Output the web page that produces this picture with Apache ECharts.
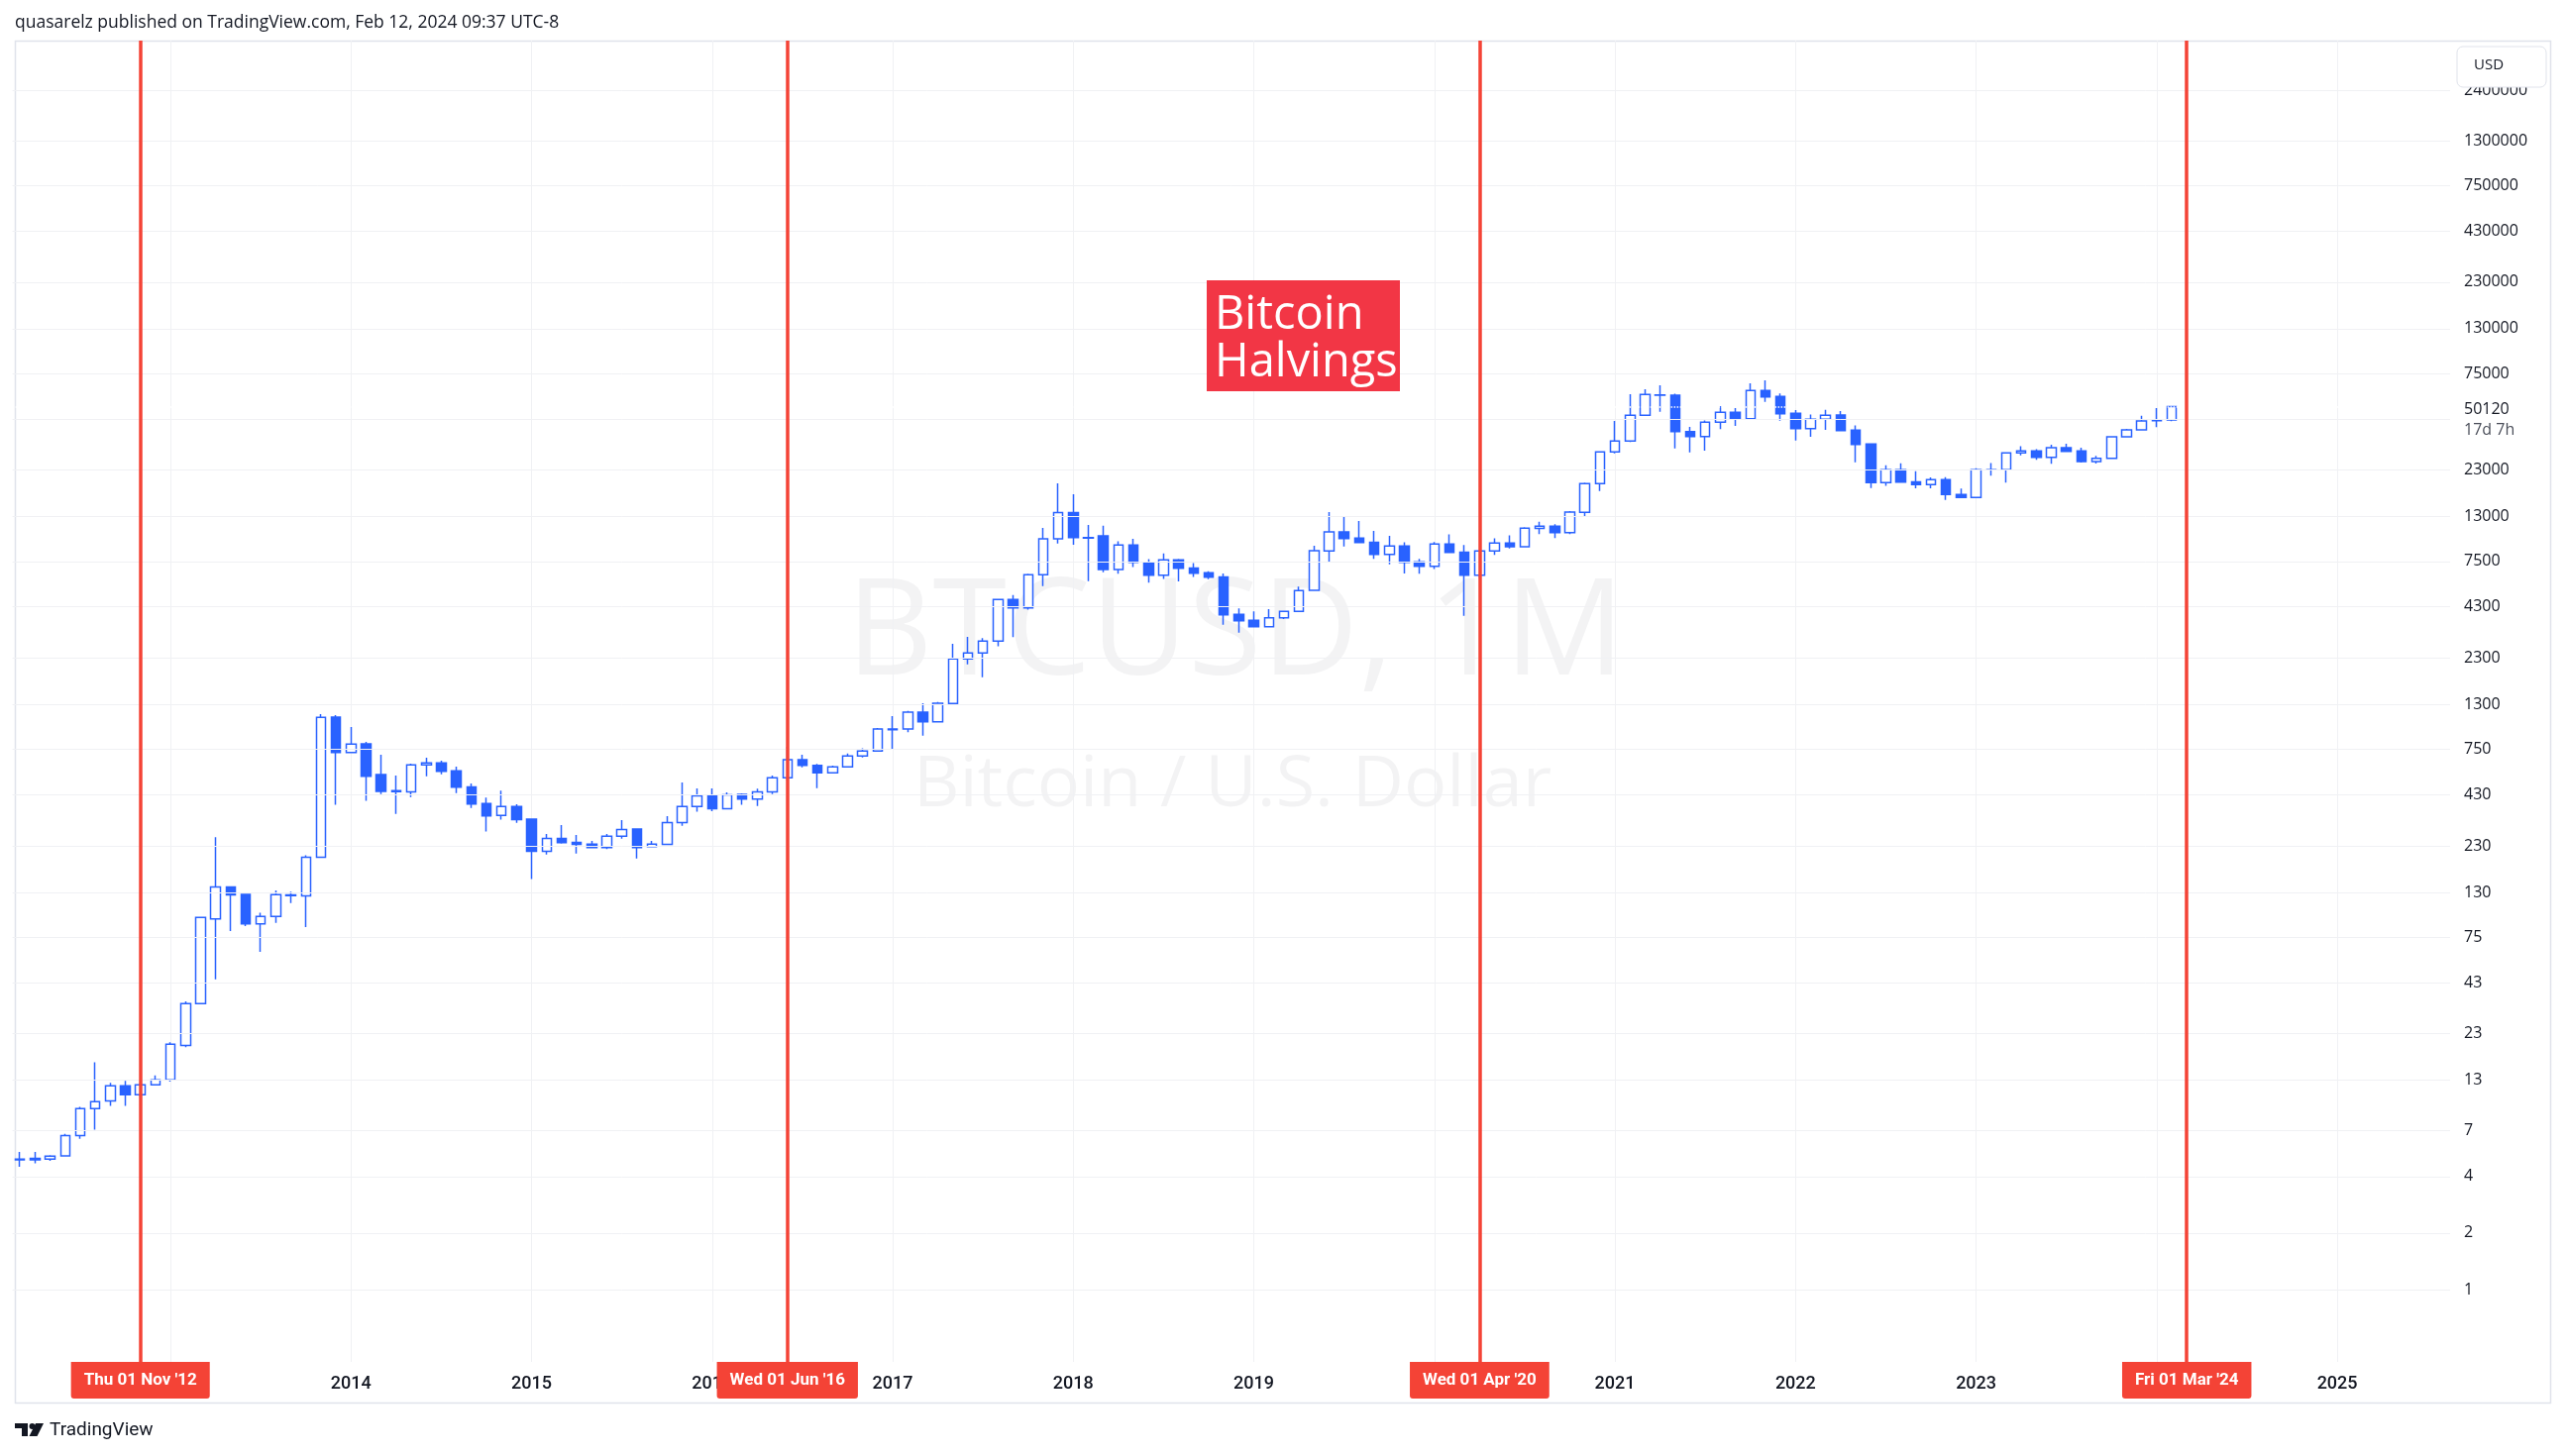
<!DOCTYPE html>
<html>
<head>
<meta charset="utf-8">
<script src="https://cdn.jsdelivr.net/npm/echarts@6/dist/echarts.min.js"></script>
<style>
html,body{margin:0;padding:0;background:#fff;}
#chart{width:2591px;height:1470px;}
</style>
</head>
<body>
<div id="chart"></div>
<script>
// ---- categories (monthly bars, Mar 2012 .. Aug 2025; bars exist through Feb 2024) ----
const months = [
 '2012-03','2012-04','2012-05','2012-06','2012-07','2012-08','2012-09','2012-10','2012-11','2012-12',
 '2013-01','2013-02','2013-03','2013-04','2013-05','2013-06','2013-07','2013-08','2013-09','2013-10','2013-11','2013-12',
 '2014-01','2014-02','2014-03','2014-04','2014-05','2014-06','2014-07','2014-08','2014-09','2014-10','2014-11','2014-12',
 '2015-01','2015-02','2015-03','2015-04','2015-05','2015-06','2015-07','2015-08','2015-09','2015-10','2015-11','2015-12',
 '2016-01','2016-02','2016-03','2016-04','2016-05','2016-06','2016-07','2016-08','2016-09','2016-10','2016-11','2016-12',
 '2017-01','2017-02','2017-03','2017-04','2017-05','2017-06','2017-07','2017-08','2017-09','2017-10','2017-11','2017-12',
 '2018-01','2018-02','2018-03','2018-04','2018-05','2018-06','2018-07','2018-08','2018-09','2018-10','2018-11','2018-12',
 '2019-01','2019-02','2019-03','2019-04','2019-05','2019-06','2019-07','2019-08','2019-09','2019-10','2019-11','2019-12',
 '2020-01','2020-02','2020-03','2020-04','2020-05','2020-06','2020-07','2020-08','2020-09','2020-10','2020-11','2020-12',
 '2021-01','2021-02','2021-03','2021-04','2021-05','2021-06','2021-07','2021-08','2021-09','2021-10','2021-11','2021-12',
 '2022-01','2022-02','2022-03','2022-04','2022-05','2022-06','2022-07','2022-08','2022-09','2022-10','2022-11','2022-12',
 '2023-01','2023-02','2023-03','2023-04','2023-05','2023-06','2023-07','2023-08','2023-09','2023-10','2023-11','2023-12',
 '2024-01','2024-02','2024-03','2024-04','2024-05','2024-06','2024-07','2024-08','2024-09','2024-10','2024-11','2024-12',
 '2025-01','2025-02','2025-03','2025-04','2025-05','2025-06','2025-07','2025-08'
];

// ---- BTCUSD monthly OHLC ----
const opens = [
 4.95,4.90,4.95,5.15,6.60,9.20,10.1,12.15,10.9,12.3,
 13.05,19.9,33.3,94,139,127,88.4,96.8,126.0,124.5,200,1113,
 722,803,551,452,446,620,635,576,474,386,334,372,
 319,215,252,240,235,225,259,283,228,234,306,372,
 425,362,432,408,446,529,661,617,562,605,691,735,
 955,962,1184,1053,1318,2270,2443,2825,4705,4251,6372,9904,
 13680,10070,10270,6797,9170,7430,6346,7644,6925,6530,6210,3920,
 3645,3376,3765,4067,5268,8540,10780,9980,9500,8190,9080,7460,
 7080,9290,8410,6346,8525,9396,8990,11240,11550,10700,13700,19470,
 28700,32800,45000,57800,57500,36900,34720,41300,46650,43200,60930,56700,
 46100,38250,42850,45100,37500,31700,19700,23080,19900,19230,20430,17030,
 16430,23080,23080,28360,29050,26910,30250,29100,25520,26580,34580,37630,
 42100,42500
];
const highs = [
 5.4,5.4,5.2,6.75,9.4,16.2,12.6,12.9,12.6,13.8,
 20.7,34.2,96,256,139.5,128,101.2,133,131,205,1156,1140,
 987,822,703,545,630,677,653,607,494,415,452,383,
 320,266,297,263,244,266,315,285,244,331,500,465,
 465,443,438,463,545,775,703,627,615,713,760,974,
 1127,1202,1320,1340,2735,2978,2930,4740,4970,6450,11330,19540,
 17100,11740,11620,9620,9900,7720,8290,7740,7350,6650,6470,4220,
 4070,4180,4100,5520,9100,13740,13090,12320,10910,10270,9500,7740,
 9530,10460,9170,8600,9960,10320,11410,12200,11850,13900,19700,29000,
 42000,58270,61930,65000,58600,39000,42200,50300,49160,66600,69050,58750,
 47970,45500,48200,47400,39700,31800,24400,25000,22650,21000,21100,18350,
 23500,25100,28600,30800,29700,31400,31800,30250,27400,34900,38100,44700,
 49160,50200
];
const lows = [
 4.5,4.7,4.85,5.1,6.35,7.1,9.5,9.5,10.7,12.2,
 12.8,19.5,33.0,44.8,81,86,62.8,89.5,114,85,200,380,
 722,399,434,340,418,540,553,439,366,274,317,305,
 153,207,236,209,225,221,251,197,226,234,294,349,
 352,362,380,375,434,510,602,467,560,605,680,735,
 749,925,888,1053,1318,2128,1818,2650,2966,4160,5550,9360,
 9210,5900,6580,6450,7010,5790,6050,5880,6200,6040,3460,3140,
 3350,3350,3700,4030,5268,7430,9020,9430,7740,7250,6480,6450,
 6830,8350,3858,6150,8140,8800,8950,10480,10000,10480,13100,17800,
 28250,32400,44900,47000,30000,28600,29200,38000,39520,43000,53100,42150,
 33050,34600,37600,37300,25320,18450,18950,19700,18400,18400,15960,16300,
 16430,21450,19700,27500,26100,24800,28900,25250,24950,26550,34300,37300,
 38900,41800
];
const closes = [
 4.90,5.00,5.13,6.60,9.20,10.0,12.15,10.9,12.3,13.05,
 20.2,33.3,95.6,139,126,88.4,96.8,126.4,124.8,200,1110,722,
 800,540,448,447,620,635,574,472,384,332,372,317,
 215,252,239,234,225,259,281,225,235,306,372,425,
 362,430,408,446,529,661,617,562,605,691,735,963,
 962,1184,1053,1320,2270,2443,2825,4705,4251,6372,9904,13680,
 10070,10000,6797,9170,7430,6346,7644,6910,6500,6190,3905,3630,
 3376,3765,4067,5247,8560,10780,9940,9470,8190,9060,7430,7080,
 9290,8390,6346,8525,9396,8990,11270,11550,10700,13740,19470,28700,
 32800,45000,58020,57550,36880,34720,41300,46650,43200,60930,56400,45900,
 38250,42850,45000,37350,31500,19700,23080,19860,19230,20430,17030,16430,
 23080,23120,28360,29050,26910,30250,28930,25520,26580,34580,37630,42000,
 42500,50120
];

// ---- price-scale ticks ----
const yGridValues = [1,2,4,7,13,23,43,75,130,230,430,750,1300,2300,4300,7500,13000,23000,43000,75000,130000,230000,430000,750000,1300000,2400000];
const yLabelValues = [1,2,4,7,13,23,43,75,130,230,430,750,1300,2300,4300,7500,13000,23000,75000,130000,230000,430000,750000,1300000,2400000];

// ---- halvings ----
const halvingMonths = ['2012-11','2016-06','2020-04','2024-03'];
const halvingLabels = ["Thu 01 Nov '12","Wed 01 Jun '16","Wed 01 Apr '20","Fri 01 Mar '24"];
const countdownText = '17d 7h';

const FONT = '"Open Sans", "Noto Sans", sans-serif';
const FONT2 = 'Roboto, "Open Sans", sans-serif';
const TEXT = '#131722';
const BLUE = '#2962FF';
const RED = '#F44336';

const candleData = opens.map((o, i) => [o, closes[i], lows[i], highs[i]]);
const lastClose = closes[closes.length - 1];
const isJan = (idx, val) => /-01$/.test(val);

const chart = echarts.init(document.getElementById('chart'), null, {renderer: 'canvas'});
chart.setOption({
  animation: false,
  backgroundColor: '#ffffff',
  textStyle: {fontFamily: FONT},
  grid: {left: 12.6, right: 118, top: 41, bottom: 95, show: false},
  xAxis: {
    type: 'category',
    data: months,
    boundaryGap: true,
    axisLine: {show: false},
    axisTick: {show: true, inside: true, length: 1334, alignWithLabel: true, interval: isJan,
      lineStyle: {color: '#F0F1F4', width: 1}},
    axisLabel: {interval: isJan, formatter: v => v.slice(0, 4), color: TEXT, fontSize: 18, fontWeight: 500,
      lineHeight: 18, fontFamily: FONT2, margin: 13},
    splitLine: {show: false}
  },
  yAxis: {
    type: 'log', logBase: 10, min: 0.4122, max: 4.44e6, position: 'right',
    axisLine: {show: false}, axisTick: {show: false}, axisLabel: {show: false}, splitLine: {show: false}
  },
  series: [
    {
      type: 'line', data: [], z: 1, silent: true,
      markLine: {
        silent: true, symbol: 'none', animation: false,
        lineStyle: {color: '#F0F1F4', width: 1, type: 'solid'},
        label: {position: 'end', distance: 14, color: TEXT, fontSize: 16, fontFamily: FONT, formatter: '{b}'},
        emphasis: {disabled: true},
        data: yGridValues.map(v => ({yAxis: v, name: String(v), label: {show: yLabelValues.indexOf(v) >= 0}}))
      }
    },
    {
      type: 'candlestick', z: 3, barWidth: 10,
      data: candleData,
      itemStyle: {color: '#ffffff', color0: BLUE, borderColor: BLUE, borderColor0: BLUE, borderWidth: 1.5}
    },
    {
      type: 'line', data: [], z: 4, silent: true,
      markLine: {
        silent: true, symbol: 'none', animation: false,
        emphasis: {disabled: true},
        data: [{
          yAxis: lastClose, name: String(lastClose),
          lineStyle: {color: '#ffffff', width: 1.5, type: 'dotted'},
          label: {position: 'end', distance: 14, padding: [28, 0, 0, 0],
            formatter: '{a|' + lastClose + '}\n{b|' + countdownText + '}',
            rich: {a: {color: TEXT, fontSize: 16, fontFamily: FONT, lineHeight: 21},
                   b: {color: '#4a4e59', fontSize: 16, fontFamily: FONT, lineHeight: 21}}}
        }]
      }
    },
    {
      type: 'line', data: [], z: 5, silent: true,
      markLine: {
        silent: true, symbol: 'none', animation: false,
        emphasis: {disabled: true},
        data: halvingMonths.map((m, i) => ({
          xAxis: m, name: halvingLabels[i],
          lineStyle: {color: RED, width: 3.5, type: 'solid'},
          label: {position: 'start', distance: 0, formatter: '{b}', backgroundColor: RED, color: '#ffffff',
            fontSize: 17, fontWeight: 'bold', lineHeight: 17, fontFamily: FONT2,
            padding: [10, 13, 10, 13], borderRadius: [0, 0, 3, 3]}
        }))
      }
    }
  ],
  graphic: [
    {type: 'text', z: 0, x: 15, y: 23, style: {text: 'quasarelz published on TradingView.com, Feb 12, 2024 09:37 UTC-8',
      font: '17.5px ' + FONT, fill: TEXT, verticalAlign: 'middle', align: 'left'}},
    {type: 'text', z: 0, x: 1247, y: 643, style: {text: 'BTCUSD, 1M', font: '135px ' + FONT,
      fill: 'rgba(19,23,34,0.05)', align: 'center', verticalAlign: 'middle'}},
    {type: 'text', z: 0, x: 1244, y: 793, style: {text: 'Bitcoin / U.S. Dollar', font: '72px ' + FONT,
      fill: 'rgba(19,23,34,0.05)', align: 'center', verticalAlign: 'middle'}},
    {type: 'rect', z: 0, shape: {x: 15.5, y: 41.5, width: 2559, height: 1375},
      style: {fill: 'none', stroke: '#E0E3EB', lineWidth: 1.5}},
    {type: 'rect', z: 10, shape: {x: 2480, y: 47, width: 90, height: 41, r: 6},
      style: {fill: '#ffffff', stroke: '#E0E3EB', lineWidth: 1}},
    {type: 'text', z: 11, x: 2497, y: 66, style: {text: 'USD', font: '15px ' + FONT, fill: TEXT, verticalAlign: 'middle'}},
    {type: 'rect', z: 10, shape: {x: 1218, y: 283, width: 195, height: 112},
      style: {fill: '#F23645'}},
    {type: 'text', z: 11, x: 1226, y: 295, style: {text: 'Bitcoin\nHalvings', font: '47px ' + FONT,
      fill: '#ffffff', lineHeight: 48, verticalAlign: 'top', align: 'left'}},
    {type: 'rect', z: 0, shape: {x: 15, y: 1437, width: 13, height: 5}, style: {fill: TEXT}},
    {type: 'rect', z: 0, shape: {x: 22, y: 1437, width: 6, height: 13}, style: {fill: TEXT}},
    {type: 'circle', z: 0, shape: {cx: 32.5, cy: 1440, r: 3}, style: {fill: TEXT}},
    {type: 'polygon', z: 0, shape: {points: [[36, 1437], [44, 1437], [37.5, 1450], [29.5, 1450]]}, style: {fill: TEXT}},
    {type: 'text', z: 0, x: 50, y: 1444, style: {text: 'TradingView', font: '19px ' + FONT2, fill: TEXT, verticalAlign: 'middle'}}
  ]
});
</script>
</body>
</html>
